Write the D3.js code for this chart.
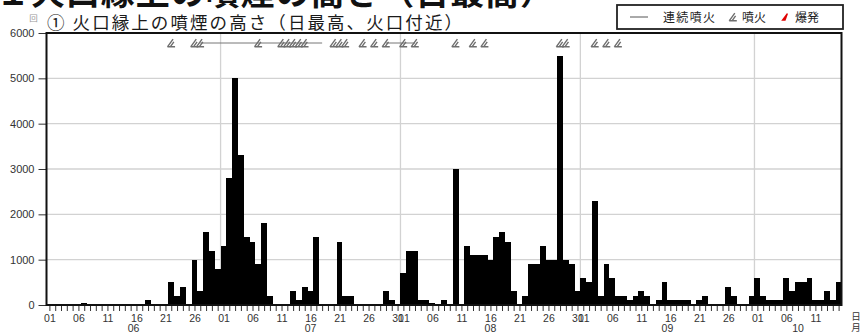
<!DOCTYPE html>
<html>
<head>
<meta charset="utf-8">
<script src="https://cdn.jsdelivr.net/npm/d3@7"></script>
<style>
  html, body { margin: 0; padding: 0; background: #fff; }
  svg { display: block; }
  .jp { font-family: "Noto Sans CJK JP", "Noto Sans", sans-serif; }
  .num { font-family: "Liberation Sans Narrow", "Liberation Sans", "DejaVu Sans Condensed", sans-serif; }
</style>
</head>
<body>
<svg id="chart" width="861" height="332"></svg>
<script>
// Months shown on the axis and the number of days drawn for each
const monthLabels = ["06", "07", "08", "09", "10"];
const monthDays = [30, 31, 31, 30, 15];

// Daily maximum plume height above the crater rim (m), one value per day
const plumeJun = [0, 0, 0, 0, 0, 0, 50, 0, 0, 0, 20, 30, 20, 0, 0, 0, 0, 100, 30, 30,
                  0, 500, 200, 400, 0, 1000, 300, 1600, 1200, 800];
const plumeJul = [1300, 2800, 5000, 3300, 1500, 1400, 900, 1800, 200, 0, 0, 0, 300, 100, 400, 300,
                  1500, 30, 30, 30, 1400, 200, 200, 0, 0, 0, 0, 0, 300, 100, 0];
const plumeAug = [700, 1200, 1200, 100, 100, 50, 0, 100, 0, 3000, 0, 1300, 1100, 1100, 1100, 1000,
                  1500, 1600, 1400, 300, 0, 200, 900, 900, 1300, 1000, 1000, 5500, 1000, 900, 300];
const plumeSep = [600, 500, 2300, 200, 900, 600, 200, 200, 100, 200, 300, 200, 0, 100, 500, 100,
                  100, 100, 100, 0, 100, 200, 0, 0, 0, 400, 200, 0, 0, 200];
const plumeOct = [600, 200, 100, 100, 100, 600, 300, 500, 500, 600, 100, 100, 300, 100, 500];

const yTicks = [0, 1000, 2000, 3000, 4000, 5000, 6000];

// Eruption events (MM-DD), explosions, and continuous-eruption periods
const eruptionDates = ["06-22", "06-26", "06-27", "07-07", "07-11", "07-12", "07-13", "07-14", "07-15",
                       "07-20", "07-21", "07-22", "07-25", "07-27", "07-29", "08-01", "08-03",
                       "08-10", "08-13", "08-15", "08-28", "08-29", "09-03", "09-05", "09-07"];
const explosionDates = [];
const continuousPeriods = [["06-27", "07-18"], ["07-29", "08-03"]];

(function draw() {
  const svg = d3.select("#chart");

  const values = [].concat(plumeJun, plumeJul, plumeAug, plumeSep, plumeOct);
  const nDays = values.length;
  const monthStart = monthDays.map((d, k) => d3.sum(monthDays.slice(0, k)));
  const dayOfMonth = i => {
    const k = d3.bisectRight(monthStart, i) - 1;
    return i - monthStart[k] + 1;
  };
  const dayIndex = md => {
    const [m, d] = md.split("-");
    return monthStart[monthLabels.indexOf(m)] + (+d) - 1;
  };

  const pLeft = 46.5, pRight = 841.5, pTop = 33, pBottom = 305;
  const x = d3.scaleLinear().domain([0, nDays]).range([pLeft, pRight]);
  const y = d3.scaleLinear().domain([0, 6000]).range([pBottom, pTop]);

  // Large heading (runs off the top edge)
  svg.append("text").attr("class", "jp")
    .attr("x", -4).attr("y", 4.5)
    .attr("font-size", 34).attr("font-weight", 700).attr("fill", "#111")
    .attr("textLength", 558).attr("lengthAdjust", "spacing")
    .text("１火口縁上の噴煙の高さ（日最高）");

  // Panel title
  svg.append("text").attr("class", "jp")
    .attr("x", 33.5).attr("y", 21).attr("text-anchor", "middle")
    .attr("font-size", 8.5).attr("fill", "#999").text("回");
  svg.append("text").attr("class", "jp")
    .attr("x", 47).attr("y", 28.5)
    .attr("font-size", 17.5).attr("fill", "#1a1a1a")
    .attr("textLength", 415).attr("lengthAdjust", "spacing")
    .text("① 火口縁上の噴煙の高さ（日最高、火口付近）");

  // Grid
  const grid = svg.append("g").attr("stroke", "#d2d2d2").attr("stroke-width", 1.3);
  grid.selectAll("line.h").data(yTicks.filter(v => v > 0 && v < 6000)).join("line")
    .attr("x1", pLeft).attr("x2", pRight)
    .attr("y1", d => y(d)).attr("y2", d => y(d));
  grid.selectAll("line.v").data(monthStart.slice(1)).join("line")
    .attr("x1", d => x(d)).attr("x2", d => x(d))
    .attr("y1", pTop).attr("y2", pBottom);

  // Bars
  svg.append("g").attr("shape-rendering", "crispEdges")
    .selectAll("rect").data(values).join("rect")
    .attr("x", (d, i) => x(i))
    .attr("width", (d, i) => x(i + 1) - x(i))
    .attr("y", d => y(d))
    .attr("height", d => y(0) - y(d))
    .attr("fill", "#000");

  // Eruption symbols
  const eruptPath = "M-3.8,3.8 L1.8,-3.8 M-3.8,3.8 H3.8 M-1,3.8 L2.6,-1.2";
  const explodePath = "M-3.8,3.8 L1.8,-3.8 L3,-3.3 L0.5,3.8 Z";
  const markY = 43;
  const mark = svg.append("g");
  mark.selectAll("line").data(continuousPeriods).join("line")
    .attr("x1", d => x(dayIndex(d[0]) + 0.5)).attr("x2", d => x(dayIndex(d[1]) + 0.5))
    .attr("y1", markY).attr("y2", markY)
    .attr("stroke", "#777").attr("stroke-width", 1);
  mark.selectAll("path.e").data(eruptionDates).join("path")
    .attr("transform", d => `translate(${x(dayIndex(d) + 0.5)},${markY})`)
    .attr("d", eruptPath).attr("fill", "none")
    .attr("stroke", "#6e6e6e").attr("stroke-width", 1.4);
  mark.selectAll("path.x").data(explosionDates).join("path")
    .attr("transform", d => `translate(${x(dayIndex(d) + 0.5)},${markY})`)
    .attr("d", explodePath).attr("fill", "#e00000");

  // Y axis
  const yAxis = svg.append("g").attr("transform", `translate(${pLeft},0)`)
    .call(d3.axisLeft(y).tickValues(yTicks).tickSize(8).tickPadding(4).tickFormat(d3.format("d")));
  yAxis.select(".domain").remove();
  yAxis.selectAll("line").attr("stroke", "#333");
  yAxis.selectAll("text").attr("class", "num").attr("font-size", 11).attr("fill", "#333");

  // X axis: one tick per day, labels every five days
  const xAxis = svg.append("g").attr("transform", `translate(0,${pBottom})`)
    .call(d3.axisBottom(x)
      .tickValues(d3.range(nDays).map(i => i + 0.5))
      .tickSize(6)
      .tickFormat(v => {
        const dd = dayOfMonth(Math.floor(v));
        return (dd - 1) % 5 === 0 ? String(dd).padStart(2, "0") : "";
      }));
  xAxis.select(".domain").remove();
  xAxis.selectAll("line").attr("stroke", "#333");
  xAxis.selectAll("text").attr("class", "num").attr("font-size", 10.5).attr("fill", "#333")
    .attr("y", 17).attr("dy", 0);

  // Month labels centred on each month's span
  svg.append("g").selectAll("text").data(monthLabels).join("text")
    .attr("class", "num").attr("font-size", 10.5).attr("fill", "#333")
    .attr("text-anchor", "middle")
    .attr("x", (d, k) => x(monthStart[k] + monthDays[k] / 2))
    .attr("y", 332)
    .text(d => d);

  svg.append("text").attr("class", "jp").attr("x", 856).attr("y", 320)
    .attr("text-anchor", "middle").attr("font-size", 9.5).attr("fill", "#333").text("日");
  svg.append("text").attr("class", "jp").attr("x", 856).attr("y", 331)
    .attr("text-anchor", "middle").attr("font-size", 9.5).attr("fill", "#333").text("月");

  // Plot frame
  svg.append("rect").attr("x", pLeft).attr("y", pTop)
    .attr("width", pRight - pLeft).attr("height", pBottom - pTop)
    .attr("fill", "none").attr("stroke", "#111").attr("stroke-width", 2);

  // Legend
  const lg = svg.append("g");
  lg.append("rect").attr("x", 617).attr("y", 5).attr("width", 226).attr("height", 24)
    .attr("fill", "#fff").attr("stroke", "#222").attr("stroke-width", 1.8);
  lg.append("line").attr("x1", 630).attr("x2", 648).attr("y1", 17).attr("y2", 17)
    .attr("stroke", "#555").attr("stroke-width", 1);
  lg.append("text").attr("class", "jp").attr("x", 663).attr("y", 21.5)
    .attr("font-size", 12).attr("fill", "#222")
    .attr("textLength", 52).attr("lengthAdjust", "spacing").text("連続噴火");
  lg.append("path").attr("transform", "translate(733,17)").attr("d", eruptPath)
    .attr("fill", "none").attr("stroke", "#6e6e6e").attr("stroke-width", 1.4);
  lg.append("text").attr("class", "jp").attr("x", 742).attr("y", 21.5)
    .attr("font-size", 12).attr("fill", "#222")
    .attr("textLength", 24).attr("lengthAdjust", "spacing").text("噴火");
  lg.append("path").attr("transform", "translate(785,17)").attr("d", explodePath)
    .attr("fill", "#e00000");
  lg.append("text").attr("class", "jp").attr("x", 795).attr("y", 21.5)
    .attr("font-size", 12).attr("fill", "#222")
    .attr("textLength", 24).attr("lengthAdjust", "spacing").text("爆発");
})();
</script>
</body>
</html>
